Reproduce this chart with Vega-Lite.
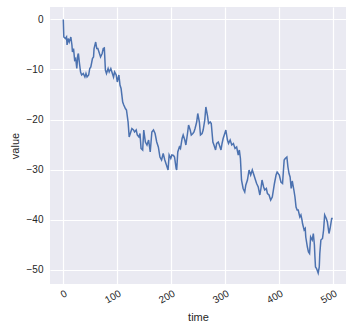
{
  "$schema": "https://vega.github.io/schema/vega-lite/v6.json",
  "width": 296,
  "height": 277,
  "autosize": {"type": "none"},
  "padding": {"left": 50, "top": 7, "right": 6, "bottom": 49},
  "background": "white",
  "config": {
    "view": {"fill": "#EAEAF2", "stroke": null},
    "font": "Liberation Sans",
    "axis": {
      "domain": false,
      "ticks": false,
      "grid": true,
      "gridColor": "white",
      "gridWidth": 1.2,
      "labelColor": "#262626",
      "labelFontSize": 10,
      "titleColor": "#262626",
      "titleFontSize": 11,
      "titleFontWeight": "normal"
    }
  },
  "data": {
    "values": [
      {"time": 0, "value": 0},
      {"time": 1, "value": -3.5},
      {"time": 4, "value": -3.8},
      {"time": 6, "value": -3.5},
      {"time": 7, "value": -5.1},
      {"time": 9, "value": -3.8},
      {"time": 11, "value": -4.5},
      {"time": 14, "value": -3.5},
      {"time": 16, "value": -5.1},
      {"time": 17, "value": -6.5},
      {"time": 19, "value": -5.8},
      {"time": 21, "value": -8.1},
      {"time": 23, "value": -7.8},
      {"time": 25, "value": -9.8},
      {"time": 27, "value": -7.1},
      {"time": 28, "value": -6.8},
      {"time": 30, "value": -8.8},
      {"time": 32, "value": -10.5},
      {"time": 34, "value": -11.1},
      {"time": 37, "value": -10.8},
      {"time": 40, "value": -11.5},
      {"time": 42, "value": -10.8},
      {"time": 44, "value": -11.5},
      {"time": 47, "value": -11.1},
      {"time": 49, "value": -9.8},
      {"time": 51, "value": -9.5},
      {"time": 54, "value": -7.8},
      {"time": 56, "value": -7.5},
      {"time": 57, "value": -5.8},
      {"time": 60, "value": -4.5},
      {"time": 62, "value": -5.8},
      {"time": 64, "value": -5.8},
      {"time": 67, "value": -6.8},
      {"time": 69, "value": -7.5},
      {"time": 72, "value": -6.8},
      {"time": 74, "value": -5.8},
      {"time": 76, "value": -5.7},
      {"time": 78, "value": -10.1},
      {"time": 80, "value": -10.8},
      {"time": 83, "value": -9.8},
      {"time": 85, "value": -10.5},
      {"time": 88, "value": -9.8},
      {"time": 90, "value": -10.5},
      {"time": 93, "value": -11.5},
      {"time": 95, "value": -10.5},
      {"time": 98, "value": -11.1},
      {"time": 100, "value": -12.5},
      {"time": 103, "value": -11.1},
      {"time": 105, "value": -13.1},
      {"time": 107, "value": -13.8},
      {"time": 110, "value": -16.5},
      {"time": 112, "value": -17.1},
      {"time": 115, "value": -17.8},
      {"time": 117, "value": -18.1},
      {"time": 120, "value": -20.5},
      {"time": 122, "value": -23.5},
      {"time": 125, "value": -22.5},
      {"time": 127, "value": -21.8},
      {"time": 130, "value": -22.1},
      {"time": 132, "value": -22.5},
      {"time": 135, "value": -22.1},
      {"time": 137, "value": -23.1},
      {"time": 140, "value": -23.5},
      {"time": 142, "value": -22.8},
      {"time": 144, "value": -25.8},
      {"time": 147, "value": -26.1},
      {"time": 149, "value": -22.1},
      {"time": 152, "value": -24.5},
      {"time": 155, "value": -25.1},
      {"time": 158, "value": -24.1},
      {"time": 161, "value": -26.5},
      {"time": 164, "value": -22.5},
      {"time": 167, "value": -22.1},
      {"time": 170, "value": -22.8},
      {"time": 173, "value": -24.5},
      {"time": 176, "value": -25.5},
      {"time": 179, "value": -27.5},
      {"time": 182, "value": -28.1},
      {"time": 185, "value": -26.8},
      {"time": 188, "value": -28.1},
      {"time": 191, "value": -29.1},
      {"time": 194, "value": -30.1},
      {"time": 196, "value": -27.1},
      {"time": 199, "value": -27.8},
      {"time": 201, "value": -27.1},
      {"time": 204, "value": -27.2},
      {"time": 206, "value": -27.5},
      {"time": 209, "value": -29.8},
      {"time": 210, "value": -30.1},
      {"time": 212, "value": -26.5},
      {"time": 215, "value": -25.5},
      {"time": 217, "value": -25.8},
      {"time": 220, "value": -23.8},
      {"time": 222, "value": -23.1},
      {"time": 225, "value": -24.1},
      {"time": 227, "value": -25.1},
      {"time": 230, "value": -22.8},
      {"time": 232, "value": -21.1},
      {"time": 235, "value": -22.1},
      {"time": 237, "value": -23.1},
      {"time": 240, "value": -22.8},
      {"time": 242, "value": -22.5},
      {"time": 244, "value": -21.8},
      {"time": 247, "value": -20.5},
      {"time": 249, "value": -18.8},
      {"time": 252, "value": -20.5},
      {"time": 254, "value": -23.1},
      {"time": 257, "value": -22.8},
      {"time": 259, "value": -22.1},
      {"time": 262, "value": -20.1},
      {"time": 264, "value": -17.5},
      {"time": 267, "value": -19.2},
      {"time": 269, "value": -20.8},
      {"time": 272, "value": -20.5},
      {"time": 274, "value": -20.8},
      {"time": 277, "value": -24.5},
      {"time": 279, "value": -25.1},
      {"time": 282, "value": -26.1},
      {"time": 284, "value": -24.8},
      {"time": 287, "value": -24.5},
      {"time": 289, "value": -25.1},
      {"time": 292, "value": -26.1},
      {"time": 294, "value": -24.8},
      {"time": 296, "value": -23.8},
      {"time": 299, "value": -22.8},
      {"time": 301, "value": -22.1},
      {"time": 304, "value": -24.1},
      {"time": 306, "value": -24.8},
      {"time": 309, "value": -24.1},
      {"time": 312, "value": -25.1},
      {"time": 315, "value": -24.8},
      {"time": 318, "value": -25.8},
      {"time": 321, "value": -25.5},
      {"time": 324, "value": -27.1},
      {"time": 326, "value": -26.1},
      {"time": 328, "value": -27.8},
      {"time": 330, "value": -32.1},
      {"time": 333, "value": -33.8},
      {"time": 336, "value": -34.5},
      {"time": 338, "value": -33.1},
      {"time": 341, "value": -32.1},
      {"time": 344, "value": -30.1},
      {"time": 347, "value": -31.1},
      {"time": 350, "value": -30.1},
      {"time": 353, "value": -31.1},
      {"time": 355, "value": -31.8},
      {"time": 358, "value": -32.8},
      {"time": 361, "value": -33.5},
      {"time": 364, "value": -35.1},
      {"time": 366, "value": -33.8},
      {"time": 368, "value": -32.1},
      {"time": 371, "value": -33.5},
      {"time": 373, "value": -34.1},
      {"time": 376, "value": -33.8},
      {"time": 378, "value": -34.8},
      {"time": 381, "value": -35.1},
      {"time": 384, "value": -36.1},
      {"time": 387, "value": -35.5},
      {"time": 391, "value": -32.8},
      {"time": 394, "value": -31.1},
      {"time": 396, "value": -30.5},
      {"time": 400, "value": -31.1},
      {"time": 403, "value": -32.5},
      {"time": 406, "value": -32.8},
      {"time": 409, "value": -28.1},
      {"time": 411, "value": -27.8},
      {"time": 414, "value": -27.5},
      {"time": 416, "value": -29.5},
      {"time": 418, "value": -30.8},
      {"time": 420, "value": -31.5},
      {"time": 422, "value": -33.8},
      {"time": 424, "value": -32.3},
      {"time": 427, "value": -34.1},
      {"time": 429, "value": -35.5},
      {"time": 431, "value": -37.5},
      {"time": 433, "value": -38.1},
      {"time": 435, "value": -38.1},
      {"time": 438, "value": -39.5},
      {"time": 440, "value": -39.1},
      {"time": 442, "value": -40.1},
      {"time": 443, "value": -40.8},
      {"time": 446, "value": -42.1},
      {"time": 448, "value": -41.8},
      {"time": 449, "value": -43.5},
      {"time": 452, "value": -45.5},
      {"time": 454, "value": -46.5},
      {"time": 456, "value": -46.8},
      {"time": 458, "value": -43.5},
      {"time": 461, "value": -44.1},
      {"time": 463, "value": -42.8},
      {"time": 465, "value": -45.1},
      {"time": 466, "value": -47.5},
      {"time": 467, "value": -49.5},
      {"time": 469, "value": -49.8},
      {"time": 472, "value": -50.7},
      {"time": 474, "value": -49.5},
      {"time": 475, "value": -46.8},
      {"time": 477, "value": -44.1},
      {"time": 480, "value": -43.8},
      {"time": 482, "value": -42.1},
      {"time": 484, "value": -39.1},
      {"time": 487, "value": -39.8},
      {"time": 489, "value": -40.5},
      {"time": 492, "value": -42.8},
      {"time": 494, "value": -41.8},
      {"time": 497, "value": -39.8},
      {"time": 499, "value": -39.8}
    ]
  },
  "mark": {"type": "line", "color": "#4C72B0", "strokeWidth": 1.5},
  "encoding": {
    "x": {
      "field": "time",
      "type": "quantitative",
      "scale": {"domain": [-24.6, 523.5], "nice": false, "zero": false},
      "axis": {
        "values": [0, 100, 200, 300, 400, 500],
        "labelAngle": -30,
        "labelAlign": "right",
        "labelBaseline": "top",
        "labelPadding": 4,
        "titlePadding": 6
      }
    },
    "y": {
      "field": "value",
      "type": "quantitative",
      "scale": {"domain": [-52.9, 2.5], "nice": false, "zero": false},
      "axis": {
        "values": [-50, -40, -30, -20, -10, 0],
        "labelPadding": 7,
        "titlePadding": 6
      }
    }
  }
}
